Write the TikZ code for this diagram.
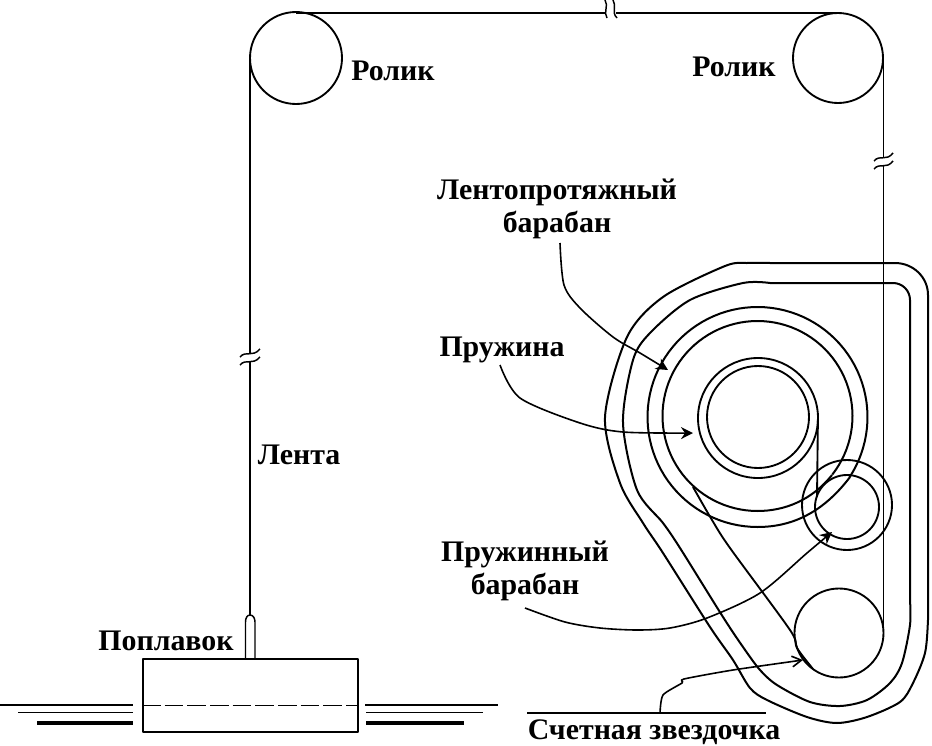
\documentclass[tikz,border=0pt]{standalone}
\usepackage{fontspec}
\setmainfont{Liberation Serif}
\usetikzlibrary{arrows.meta}
\tikzset{
  line/.style={line width=1.4pt,line join=round},
  thin line/.style={line width=1.1pt},
  band/.style={line width=1.5pt,line join=round},
  leader/.style={line width=1.2pt,-{Stealth[length=9pt,width=9pt,inset=3pt]}},
  leaderthin/.style={line width=1.2pt,-{Straight Barb[length=7pt,width=8pt]}},
  lab/.style={font=\fontsize{22.4}{24.5}\selectfont\bfseries,inner sep=0pt,align=center},
  brk/.style={line width=1.1pt}
}
\begin{document}
\begin{tikzpicture}[x=0.75pt,y=-0.75pt]
\useasboundingbox (0,0) rectangle (932,746);
% rollers
\node[draw,circle,line,minimum size=92*0.75pt,inner sep=0pt] (rl) at (296,58) {};
\node[draw,circle,line,minimum size=90*0.75pt,inner sep=0pt] (rr) at (838,58) {};
\node[draw,circle,line,minimum size=89*0.75pt,inner sep=0pt] (sprocket) at (839,633) {};
\node[draw,circle,line,minimum size=64*0.75pt,inner sep=0pt] (sd1) at (847,507) {};
\node[draw,circle,line,minimum size=90*0.75pt,inner sep=0pt] (sd2) at (847,505) {};
\node[draw,circle,line,minimum size=102*0.75pt,inner sep=0pt] (hub1) at (758,417) {};
\node[draw,circle,line,minimum size=120*0.75pt,inner sep=0pt] (hub2) at (758,418) {};
% float
\node[draw,line,minimum width=215*0.75pt,minimum height=73*0.75pt,inner sep=0pt] (float) at (250.5,695.5) {};
\coordinate (tabL) at (245.5,659);
\coordinate (tabR) at (255,659);
\draw[thin line] (tabL) -- (245.5,622) to[out=90,in=180] (250,615) to[out=0,in=90] (255,622) -- (tabR);
% tape
\coordinate (tA) at (250,58);
\coordinate (tB) at (250,615);
\coordinate (tC) at (296,13);
\coordinate (tD) at (838,13);
\coordinate (tE) at (883.5,58);
\coordinate (tF) at (883.5,633);
\draw[thin line] (tA) -- (tB);
\draw[line] (tC) -- (tD);
\draw[thin line] (tE) -- (tF);
% breaks
\fill[white] (238,353) rectangle (262,361);
\draw[brk] (240,357) .. controls (246,350) and (252,358) .. (260,349);
\draw[brk] (240,365) .. controls (246,358) and (252,366) .. (260,357);
\fill[white] (606,0) rectangle (616,18);
\draw[brk] (605,0) .. controls (609,6) and (603,12) .. (607,18);
\draw[brk] (613,0) .. controls (617,6) and (611,12) .. (617,18);
\fill[white] (872,158) rectangle (895,165);
\draw[brk] (874,161) .. controls (880,154) and (886,162) .. (893,153);
\draw[brk] (874,169) .. controls (880,162) and (886,170) .. (893,161);
% water
\coordinate (w1) at (0,705);
\coordinate (w2) at (133,705);
\coordinate (w3) at (365,705);
\coordinate (w4) at (498,705);
\draw[thin line] (w1) -- (w2);
\draw[thin line] (w3) -- (w4);
\draw[thin line] (18,712.5) -- (133,712.5);
\draw[thin line] (366,712.5) -- (483,712.5);
\draw[line width=2.4pt] (37,723) -- (133,723);
\draw[line width=2.4pt] (366,723) -- (464,723);
\draw[line width=0.7pt,dash pattern=on 14pt off 3pt] (float.west |- w1) -- (float.east |- w1);
% spring rings
\draw[band] plot[domain=33:-270,samples=90] ({757.5+110*cos(\x)},{417+110*sin(\x)})
  .. controls (795,527) and (825,510) .. (850,477);
\draw[band] plot[domain=38:-270,samples=90] ({757.5+95*cos(\x)},{416+95*sin(\x)})
  .. controls (785,511) and (812,500) .. (832,475);
% hub tail and belt
\draw[line] (818,413) -- (817,497);
\draw[line] plot[smooth] coordinates {(693,487) (712,520) (730,548) (790,630) (797,648) (813,669)};
% outer bands
\draw[band] plot[smooth] coordinates {(770,263) (747,263) (725,266) (663,297) (627,337) (605,417) (620,483) (643,523) (663,553) (710,627) (733,660) (750,688) (767,700) (807,717) (837,723) (867,717) (900,702) (913,683) (925,653) (928,620) (928,600)}
  -- (928,295) to[out=90,in=0] (895,263) -- (770,263);
\draw[band] plot[smooth] coordinates {(770,283) (743,283) (690,300) (650,333) (633,360) (623,423) (637,490) (663,523) (680,548) (723,617) (743,647) (760,670) (777,685) (810,702) (840,706) (867,700) (890,683) (902,663) (910,625) (910,600)}
  -- (910,300) to[out=90,in=0] (893,283) -- (770,283);
% labels
\node[lab] (lr1) at (393,71) {Ролик};
\node[lab] (lr2) at (734,67) {Ролик};
\node[lab] (ldrum) at (557,209) {Лентопротяжный\\барабан};
\node[lab] (lspring) at (502,350) {Пружина};
\node[lab] (ltape) at (299,455) {Лента};
\node[lab] (lsdrum) at (525,571) {Пружинный\\барабан};
\node[lab] (lfloat) at (166,641) {Поплавок};
\node[lab] (lsprocket) at (654,732) {Счетная звездочка};
% leaders
\coordinate (a1) at (560,243);
\coordinate (a2) at (500,365);
\coordinate (a3) at (525,608);
\coordinate (a4) at (527,713);
\coordinate (a5) at (660,713);
\coordinate (a6) at (766,713);
\draw[leader] plot[smooth] coordinates {(a1) (564,285) (580,308) (613,337) (640,353) (668,370)};
\draw[leader] plot[smooth] coordinates {(a2) (520,398) (580,423) (623,432) (693,433)};
\draw[leader] plot[smooth] coordinates {(a3) (565,622) (600,628) (637,630) (670,628) (707,618) (760,593) (807,553) (832,532)};
\draw[line] (a4) -- (a6);
\draw[leaderthin] plot[smooth,tension=0.4] coordinates {(a5) (663,695) (682,683) (684,679) (733,670) (803,660)};
\end{tikzpicture}
\end{document}
